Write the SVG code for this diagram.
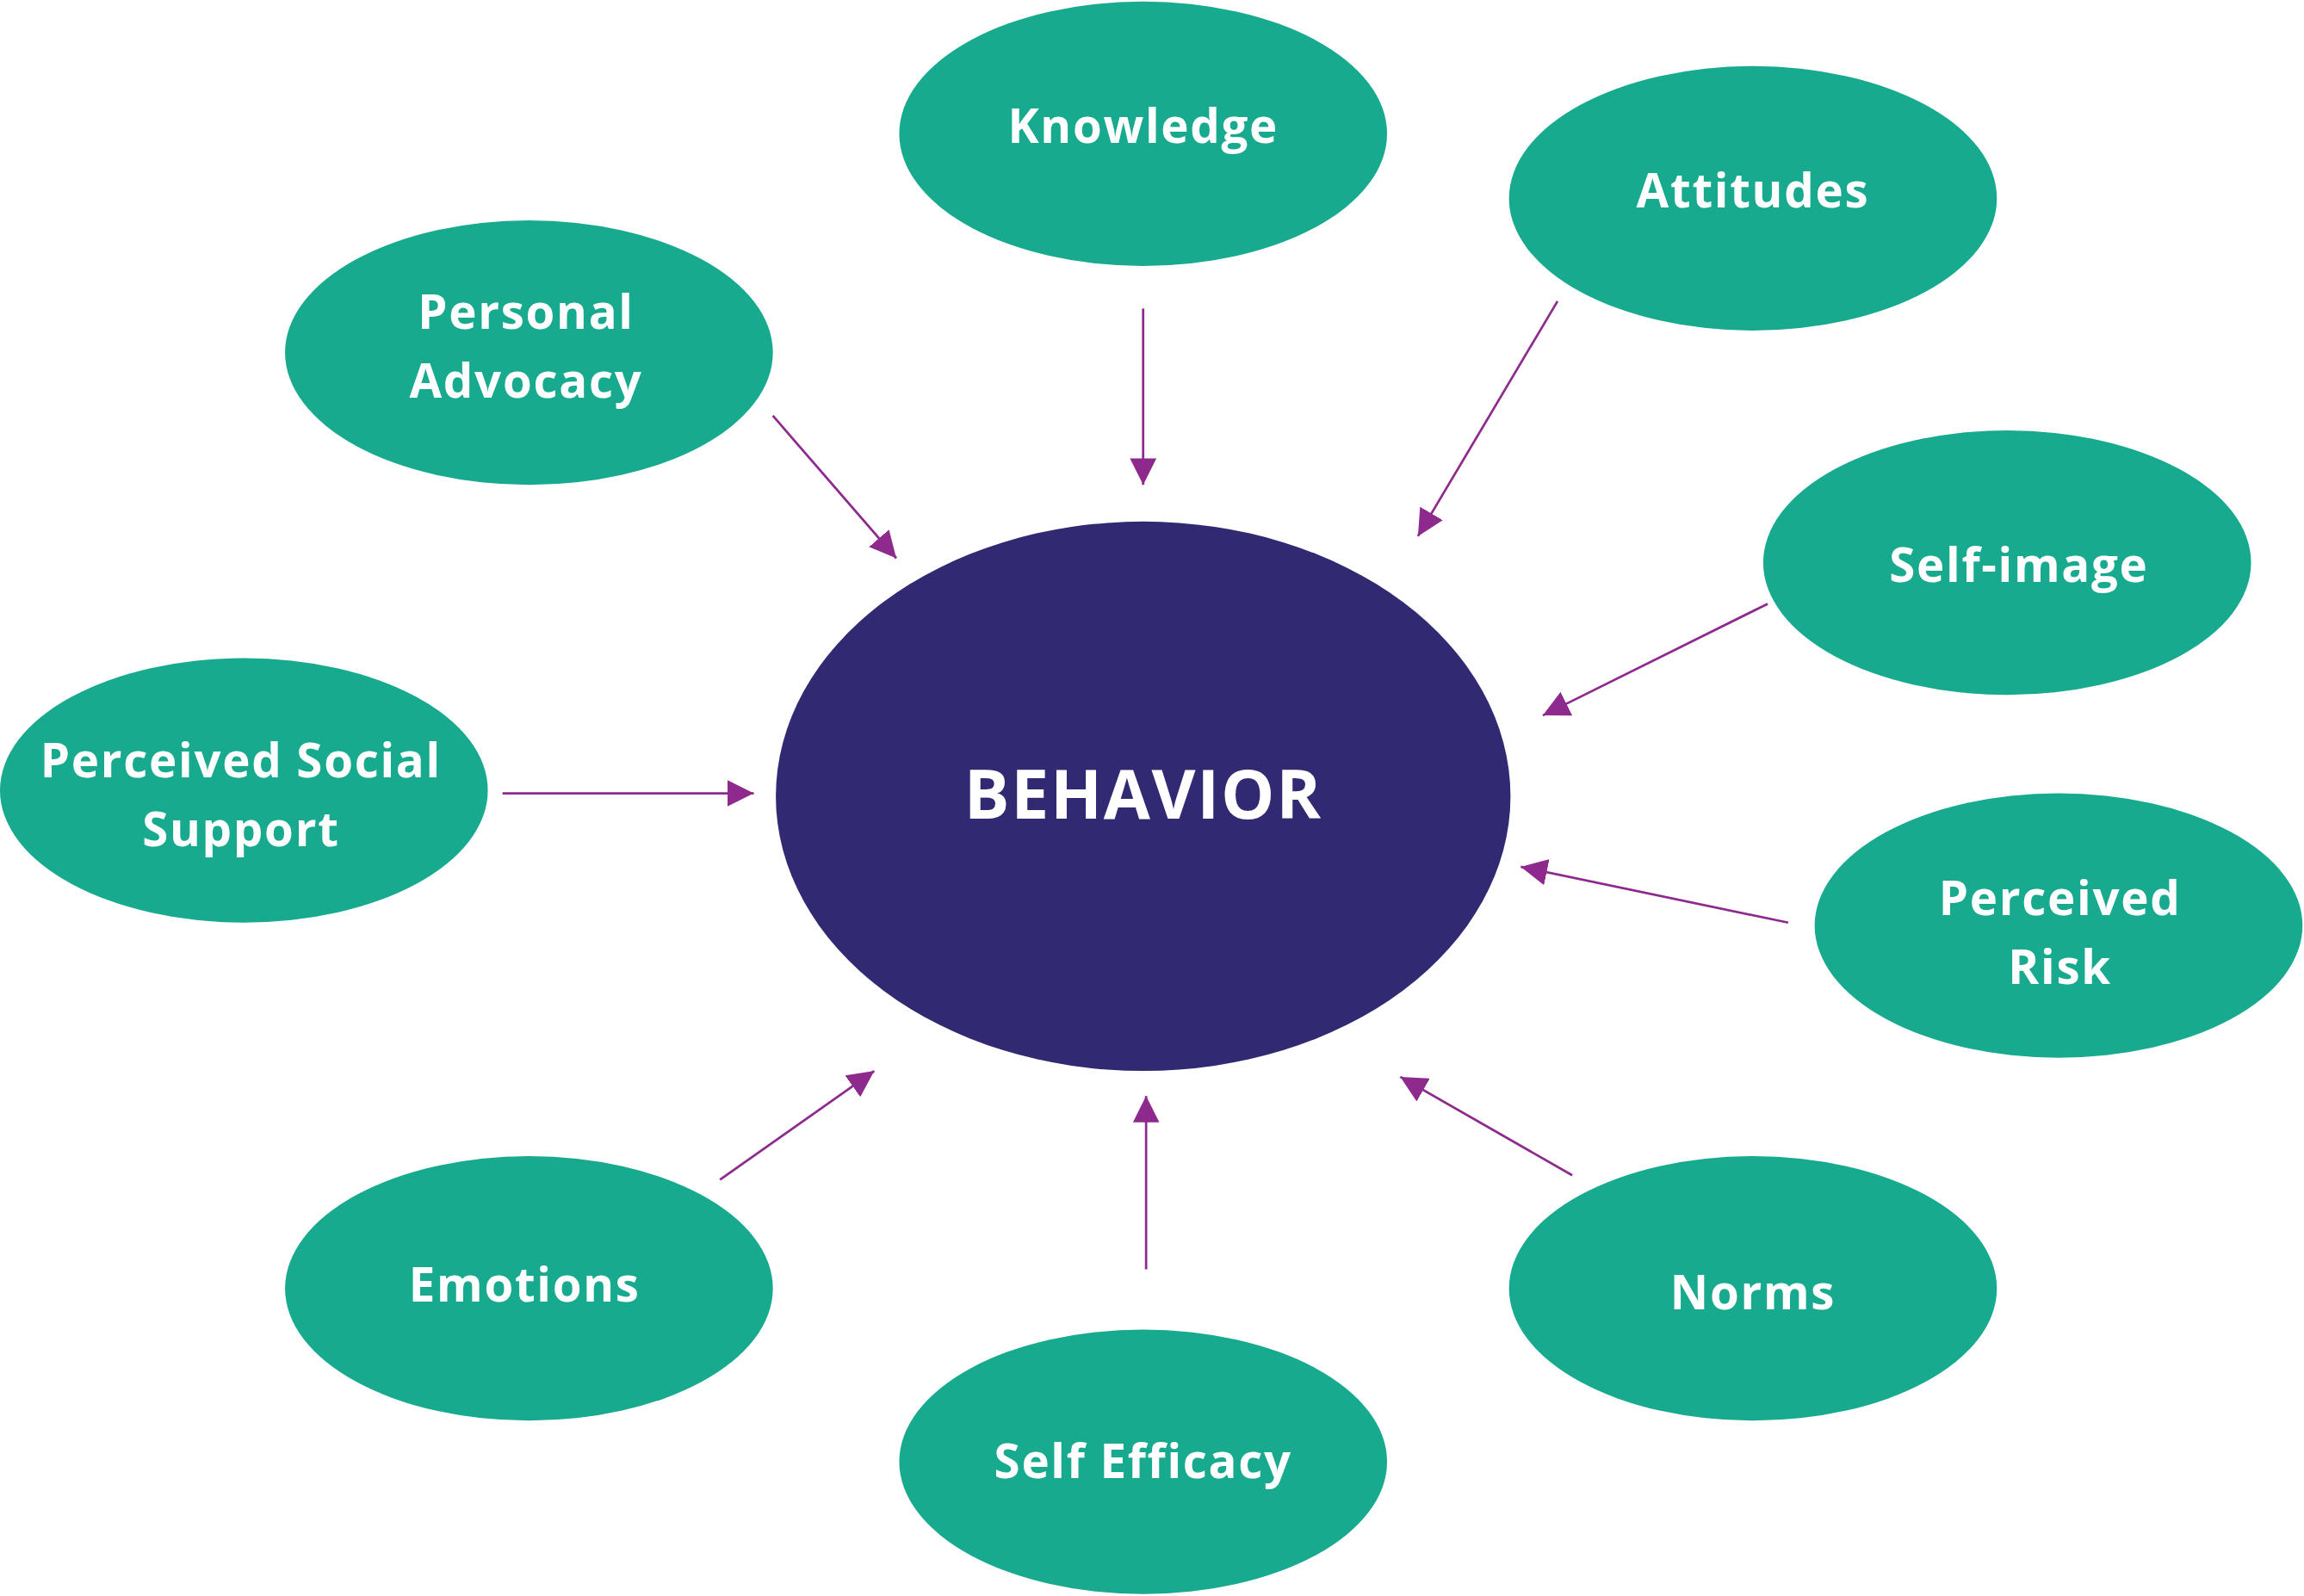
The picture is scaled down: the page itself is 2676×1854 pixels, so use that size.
<svg xmlns="http://www.w3.org/2000/svg" width="2676" height="1854" viewBox="0 0 2676 1854">
<defs>
<style>
.n{fill:#17aa8f}
.t{fill:#fff;font-family:"Open Sans",sans-serif;font-weight:bold;font-size:32px;text-anchor:middle;letter-spacing:1px}
.c line{stroke:#8e2a8e;stroke-width:1.6;marker-end:url(#a)}
</style>
<marker id="a" markerUnits="userSpaceOnUse" markerWidth="20" markerHeight="18" refX="18" refY="9" orient="auto"><path d="M0,0L18,9L0,18Z" fill="#8e2a8e"/></marker>
</defs>
<rect width="2676" height="1854" fill="#fff"/>
<g transform="scale(1.7066)">
<g id="behavior"><ellipse cx="778" cy="542" rx="250" ry="187" fill="#312a73"/><text class="t" x="778" y="557" style="font-size:46px">BEHAVIOR</text></g>
<g id="knowledge"><ellipse class="n" cx="778" cy="91" rx="166" ry="90"/><text class="t" x="778" y="97">Knowledge</text></g>
<g id="attitudes"><ellipse class="n" cx="1193" cy="135" rx="166" ry="90"/><text class="t" x="1193" y="141">Attitudes</text></g>
<g id="advocacy"><ellipse class="n" cx="360" cy="240" rx="166" ry="90"/><text class="t" x="358" y="224">Personal</text><text class="t" x="358" y="271">Advocacy</text></g>
<g id="selfimage"><ellipse class="n" cx="1366" cy="383" rx="166" ry="90"/><text class="t" x="1374" y="396">Self-image</text></g>
<g id="social"><ellipse class="n" cx="166" cy="538" rx="166" ry="90"/><text class="t" x="164" y="529">Perceived Social</text><text class="t" x="164" y="576">Support</text></g>
<g id="risk"><ellipse class="n" cx="1401" cy="630" rx="166" ry="90"/><text class="t" x="1402" y="623">Perceived</text><text class="t" x="1402" y="670">Risk</text></g>
<g id="emotions"><ellipse class="n" cx="360" cy="877" rx="166" ry="90"/><text class="t" x="357" y="886">Emotions</text></g>
<g id="norms"><ellipse class="n" cx="1193" cy="877" rx="166" ry="90"/><text class="t" x="1193" y="891">Norms</text></g>
<g id="efficacy"><ellipse class="n" cx="778" cy="995" rx="166" ry="90"/><text class="t" x="778" y="1006">Self Efficacy</text></g>
<g class="c">
<line x1="778" y1="210" x2="778" y2="330"/>
<line x1="1060" y1="205" x2="965" y2="365"/>
<line x1="526" y1="283" x2="610" y2="380"/>
<line x1="1203" y1="411" x2="1050" y2="487"/>
<line x1="342" y1="540" x2="513" y2="540"/>
<line x1="1217" y1="628" x2="1035" y2="590"/>
<line x1="490" y1="803" x2="595" y2="729"/>
<line x1="780" y1="864" x2="780" y2="746"/>
<line x1="1070" y1="800" x2="953" y2="733"/>
</g>
</g>
</svg>
